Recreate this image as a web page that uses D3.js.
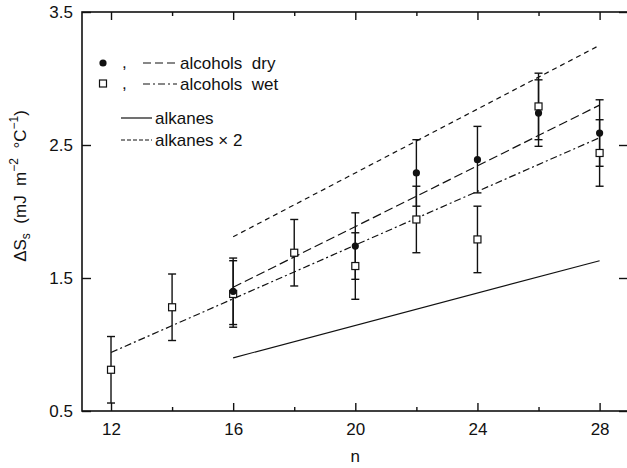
<!DOCTYPE html>
<html>
<head>
<meta charset="utf-8">
<script src="https://cdn.jsdelivr.net/npm/d3@7"></script>
<style>
  html, body { margin: 0; padding: 0; background: #fff; }
  svg { display: block; font-family: "Liberation Sans Narrow", "Arial Narrow", "Liberation Sans", sans-serif; }
</style>
</head>
<body>
<svg id="chart" width="627" height="468"></svg>
<script>
// values
const nWet = [12, 14, 16, 18, 20, 22, 24, 26, 28];
const wetValues = [0.81, 1.28, 1.38, 1.69, 1.59, 1.94, 1.79, 2.79, 2.44];
const nDry = [16, 20, 22, 24, 26, 28];
const dryValues = [1.40, 1.74, 2.29, 2.39, 2.74, 2.59];
const errorHalf = 0.25;

// fitted lines (end points)
const dryFitN = [16, 28];
const dryFit = [1.43, 2.80];
const wetFitN = [12, 28];
const wetFit = [0.94, 2.555];
const alkaneN = [16, 28];
const alkanes = [0.90, 1.63];
const alkanesX2 = [1.81, 3.25];

const xMajor = [12, 16, 20, 24, 28];
const xMinor = [14, 18, 22, 26];
const yTicks = [0.5, 1.5, 2.5, 3.5];

const svg = d3.select("#chart");
const mLeft = 82, mRight = 628, mTop = 12, mBottom = 411;

const x = d3.scaleLinear().domain([11.05, 28.93]).range([mLeft, mRight]);
const y = d3.scaleLinear().domain([0.5, 3.5]).range([mBottom, mTop]);

// frame
svg.append("rect")
  .attr("x", mLeft).attr("y", mTop)
  .attr("width", mRight - mLeft).attr("height", mBottom - mTop)
  .attr("fill", "none").attr("stroke", "#111").attr("stroke-width", 1.6);

function axis(gen, tr, vals, size, labels) {
  const g = svg.append("g").attr("transform", tr)
    .call(gen.tickValues(vals).tickSize(size).tickPadding(12)
      .tickFormat(labels ? d3.format(".1~f") : ""));
  g.select(".domain").remove();
  g.selectAll("line").attr("stroke", "#111").attr("stroke-width", 1.4);
  g.selectAll("text").attr("fill", "#111").attr("font-size", 17)
    .attr("font-family", null);
  return g;
}

// x axes (ticks inward)
axis(d3.axisBottom(x), `translate(0,${mBottom})`, xMajor, -8, true)
  .selectAll("text").attr("y", 12).attr("dy", "0.71em");
axis(d3.axisBottom(x), `translate(0,${mBottom})`, xMinor, -4, false);
axis(d3.axisTop(x), `translate(0,${mTop})`, xMajor, -8, false);
axis(d3.axisTop(x), `translate(0,${mTop})`, xMinor, -4, false);
// y axes
axis(d3.axisLeft(y), `translate(${mLeft},0)`, yTicks, -9, true)
  .selectAll("text").attr("x", -9);
axis(d3.axisRight(y), `translate(${mRight},0)`, yTicks, -9, false);

// fitted lines
const line = d3.line().x(d => x(d[0])).y(d => y(d[1]));
const fits = [
  { n: dryFitN, v: dryFit, dash: "9,4" },
  { n: wetFitN, v: wetFit, dash: "7,3,2,3" },
  { n: alkaneN, v: alkanes, dash: null },
  { n: alkaneN, v: alkanesX2, dash: "5,4" }
];
fits.forEach(f => {
  svg.append("path")
    .datum(f.n.map((n, i) => [n, f.v[i]]))
    .attr("d", line)
    .attr("fill", "none")
    .attr("stroke", "#111")
    .attr("stroke-width", 1.2)
    .attr("stroke-dasharray", f.dash);
});

// error bars
const dry = nDry.map((n, i) => ({ n, v: dryValues[i] }));
const wet = nWet.map((n, i) => ({ n, v: wetValues[i] }));
const gErr = svg.append("g").attr("stroke", "#111").attr("stroke-width", 1.4);
[...dry, ...wet].forEach(d => {
  const cx = x(d.n);
  gErr.append("line").attr("x1", cx).attr("x2", cx)
    .attr("y1", y(d.v - errorHalf)).attr("y2", y(d.v + errorHalf));
  [d.v - errorHalf, d.v + errorHalf].forEach(e => {
    gErr.append("line").attr("x1", cx - 4).attr("x2", cx + 4)
      .attr("y1", y(e)).attr("y2", y(e));
  });
});

// markers
svg.append("g").selectAll("rect").data(wet).join("rect")
  .attr("x", d => x(d.n) - 3.5).attr("y", d => y(d.v) - 3.5)
  .attr("width", 7).attr("height", 7)
  .attr("fill", "#fff").attr("stroke", "#111").attr("stroke-width", 1.2);
svg.append("g").selectAll("circle").data(dry).join("circle")
  .attr("cx", d => x(d.n)).attr("cy", d => y(d.v)).attr("r", 3.6)
  .attr("fill", "#111");

// legend
const lg = svg.append("g").attr("font-size", 17).attr("fill", "#111");
lg.append("circle").attr("cx", 103).attr("cy", 63).attr("r", 3.6).attr("fill", "#111");
lg.append("rect").attr("x", 99.5).attr("y", 80).attr("width", 7).attr("height", 7)
  .attr("fill", "#fff").attr("stroke", "#111").attr("stroke-width", 1.2);
const rows = [
  { y: 63, x1: 143, x2: 177, dash: "8,4", text: "alcohols  dry", comma: true },
  { y: 84, x1: 143, x2: 177, dash: "7,3,2,3", text: "alcohols  wet", comma: true },
  { y: 118, x1: 121, x2: 152, dash: null, text: "alkanes", comma: false },
  { y: 140, x1: 121, x2: 152, dash: "4,2", text: "alkanes \u00d7 2", comma: false }
];
rows.forEach(r => {
  if (r.comma) lg.append("text").attr("x", 122).attr("y", r.y + 5).text(",");
  lg.append("line").attr("x1", r.x1).attr("x2", r.x2).attr("y1", r.y).attr("y2", r.y)
    .attr("stroke", "#111").attr("stroke-width", 1.2).attr("stroke-dasharray", r.dash);
  lg.append("text").attr("x", r.x2 + 3).attr("y", r.y).attr("dy", "0.35em")
    .attr("xml:space", "preserve").text(r.text);
});

// axis titles
svg.append("text").attr("x", x(20)).attr("y", 462).attr("text-anchor", "middle")
  .attr("font-size", 17).attr("fill", "#111").text("n");

const yt = svg.append("text")
  .attr("transform", "translate(26,186) rotate(-90)")
  .attr("text-anchor", "middle").attr("font-size", 17).attr("fill", "#111")
  .attr("xml:space", "preserve");
yt.append("tspan").text("\u0394S");
yt.append("tspan").attr("font-size", 12).attr("dy", 4).text("s");
yt.append("tspan").attr("dy", -4).text("  (mJ  m");
yt.append("tspan").attr("font-size", 12).attr("dy", -8).text("\u22122");
yt.append("tspan").attr("dy", 8).text("  \u00b0C");
yt.append("tspan").attr("font-size", 12).attr("dy", -8).text("\u22121");
yt.append("tspan").attr("dy", 8).text(")");
</script>
</body>
</html>
